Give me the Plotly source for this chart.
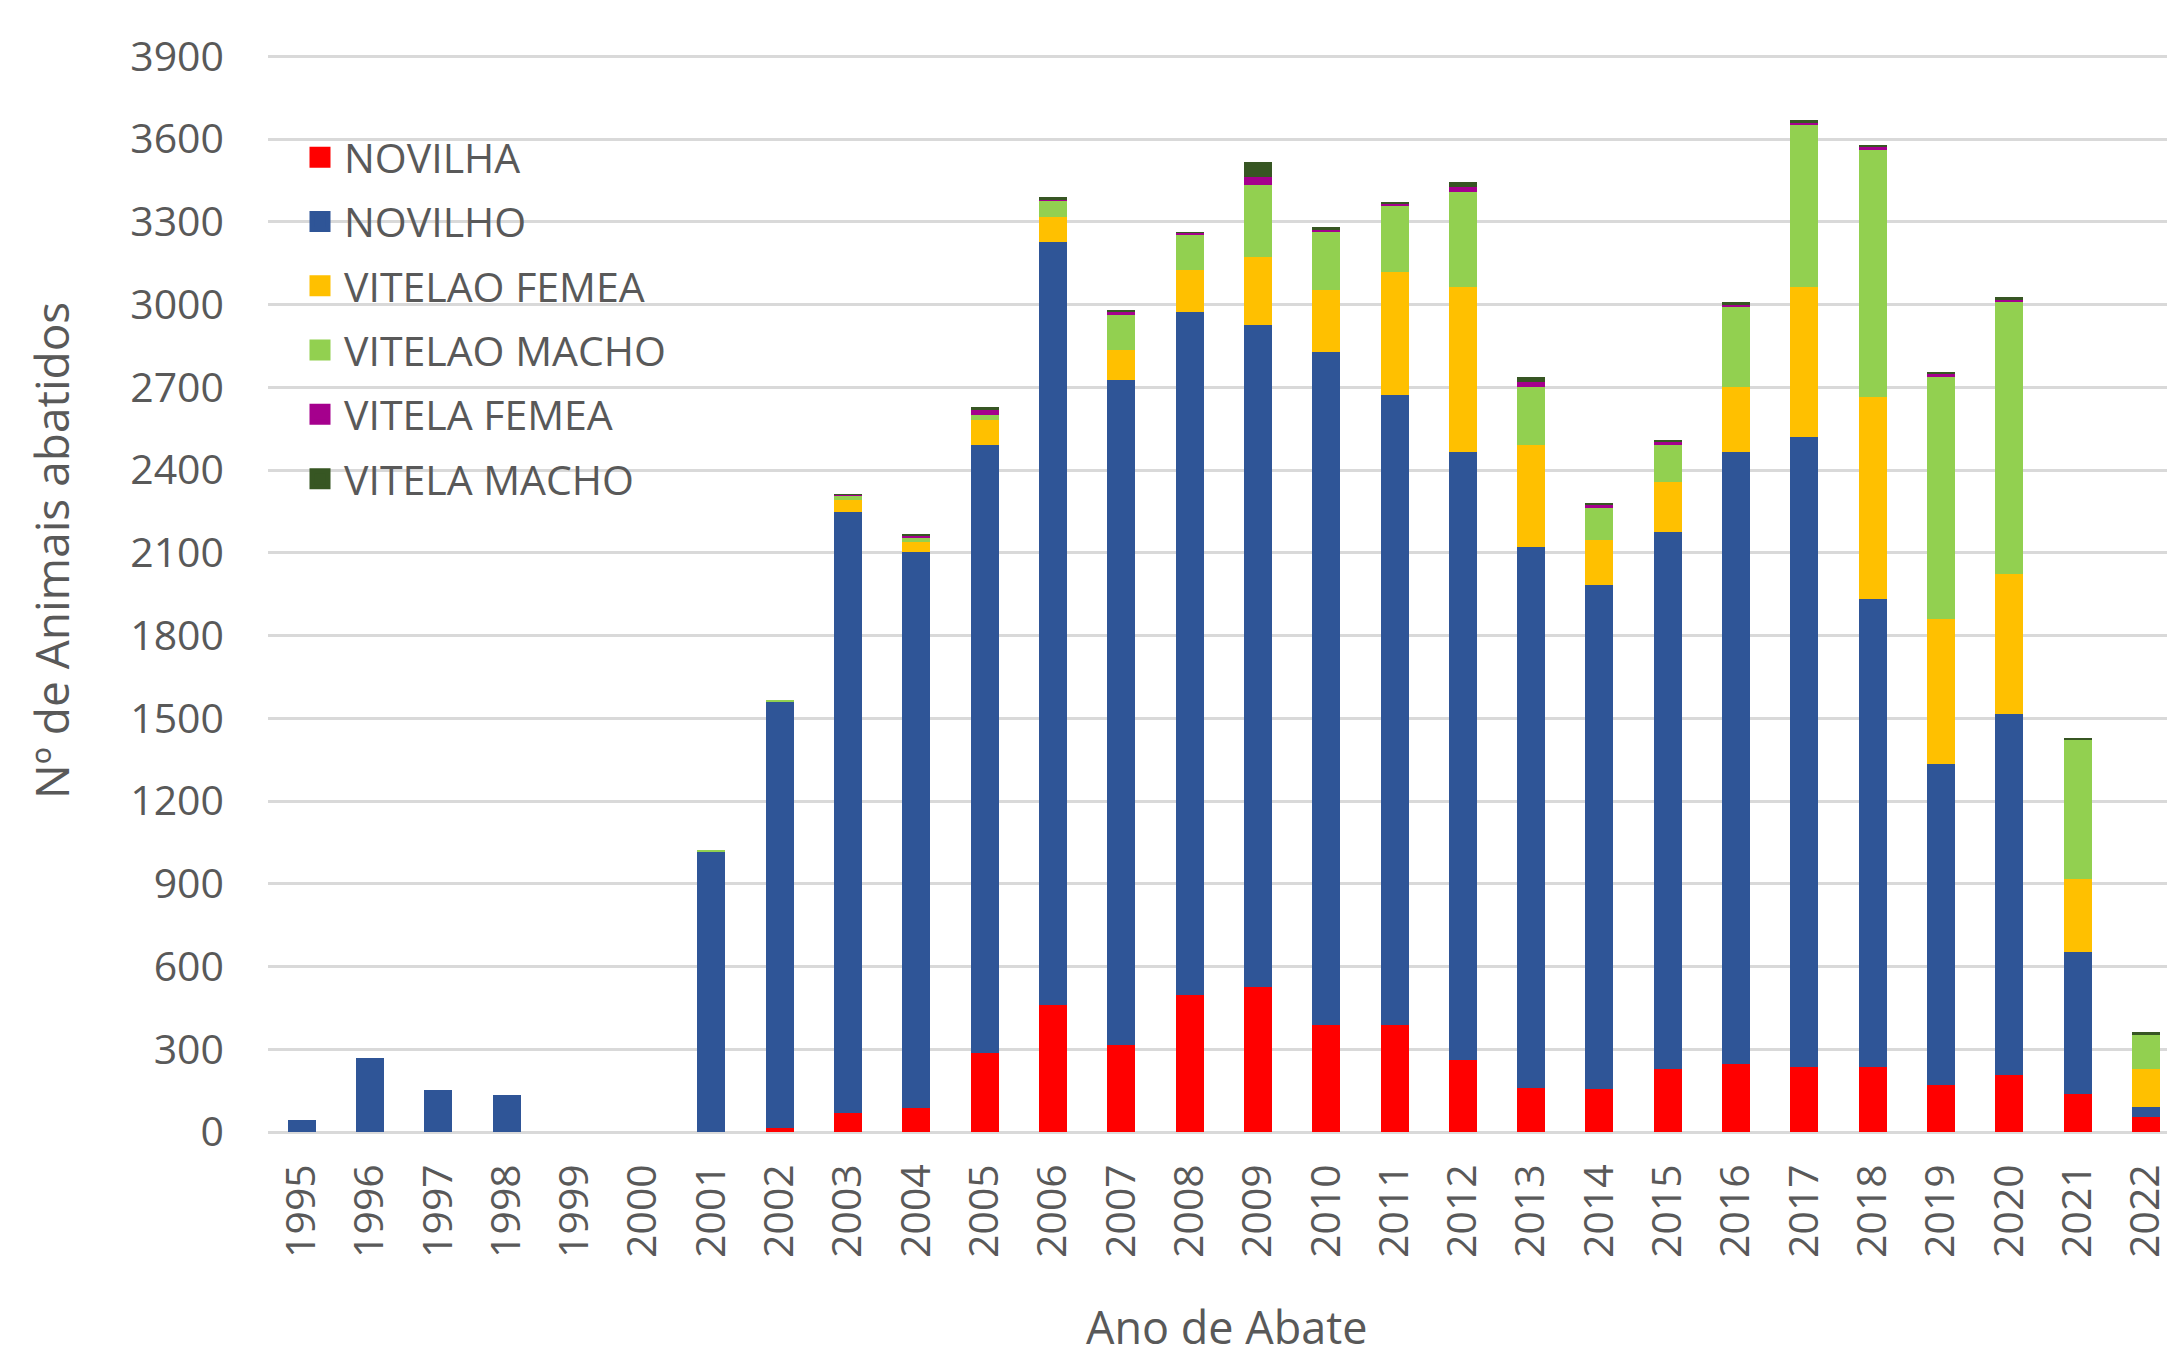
import plotly.graph_objects as go

years = [str(y) for y in range(1995, 2023)]

novilha = [0, 0, 0, 0, 0, 0, 0, 15, 70, 87, 288, 461, 315, 498, 526, 388, 388, 260,
           159, 156, 228, 246, 236, 236, 172, 208, 136, 54]
novilho = [45, 270, 152, 135, 0, 0, 1015, 1545, 2178, 2016, 2204, 2765, 2413, 2475, 2401, 2440, 2285, 2206,
           1963, 1829, 1948, 2220, 2284, 1697, 1161, 1309, 517, 36]
vitelao_femea = [0, 0, 0, 0, 0, 0, 0, 0, 45, 35, 91, 90, 108, 153, 245, 225, 444, 597,
                 370, 163, 181, 235, 543, 732, 528, 507, 264, 138]
vitelao_macho = [0, 0, 0, 0, 0, 0, 8, 5, 15, 15, 18, 63, 127, 128, 261, 209, 244, 344,
                 209, 116, 135, 290, 589, 895, 876, 985, 505, 125]
vitela_femea = [0, 0, 0, 0, 0, 0, 0, 0, 3, 8, 18, 2, 10, 7, 28, 9, 6, 18,
                18, 9, 10, 9, 7, 10, 10, 8, 2, 2]
vitela_macho = [0, 0, 0, 0, 0, 0, 0, 0, 2, 6, 10, 8, 8, 2, 55, 9, 5, 18,
                18, 9, 8, 9, 10, 8, 8, 10, 4, 6]

series = [
    ("NOVILHA", novilha, "#FF0000"),
    ("NOVILHO", novilho, "#2F5597"),
    ("VITELAO FEMEA", vitelao_femea, "#FFC000"),
    ("VITELAO MACHO", vitelao_macho, "#92D050"),
    ("VITELA FEMEA", vitela_femea, "#A5008D"),
    ("VITELA MACHO", vitela_macho, "#375623"),
]

y_ticks = list(range(0, 3901, 300))

FONT = "Open Sans, Noto Sans, Arial, sans-serif"
GREY = "#595959"

fig = go.Figure()
for name, vals, color in series:
    fig.add_trace(go.Bar(
        x=years, y=vals, name=name, legendgroup=name, showlegend=False,
        marker=dict(color=color, line=dict(width=0)),
    ))
for name, vals, color in series:
    fig.add_trace(go.Scatter(
        x=[None], y=[None], name=name, legendgroup=name, mode="markers",
        marker=dict(symbol="square", size=16, color=color, line=dict(color=color, width=5)),
    ))

W, H = 2167, 1349
L, R, T, B = 268, 0, 55, 217
pw = W - L - R
ph = H - T - B

def px_x(px):
    return (px - L) / pw

def px_y(py):
    return (H - B - py) / ph

fig.update_layout(
    width=W, height=H,
    margin=dict(l=L, r=R, t=T, b=B, autoexpand=False),
    barmode="stack",
    bargap=0.59,
    plot_bgcolor="white",
    paper_bgcolor="white",
    font=dict(family=FONT, color=GREY, size=41),
    showlegend=True,
    legend=dict(
        x=px_x(296), y=px_y(124), xanchor="left", yanchor="top",
        bgcolor="rgba(0,0,0,0)",
        font=dict(family=FONT, color=GREY, size=41),
        traceorder="grouped",
        tracegroupgap=8,
        itemwidth=38,
        itemclick=False,
    ),
    xaxis=dict(
        type="category",
        range=[-0.493, 27.31],
        tickangle=-90,
        showgrid=False,
        showline=False,
        zeroline=False,
        ticks="",
        ticklabelstandoff=23,
        tickfont=dict(family=FONT, color=GREY, size=41),
    ),
    yaxis=dict(
        range=[0, 3905],
        tickvals=y_ticks,
        ticktext=[str(v) for v in y_ticks],
        showgrid=True,
        gridcolor="#D9D9D9",
        gridwidth=3,
        zeroline=True,
        zerolinecolor="#D9D9D9",
        zerolinewidth=3,
        showline=False,
        ticks="",
        ticklabelstandoff=43,
        tickfont=dict(family=FONT, color=GREY, size=41),
    ),
    annotations=[
        dict(text="Nº de Animais abatidos", xref="paper", yref="paper",
             x=px_x(51), y=px_y(551), xanchor="center", yanchor="middle",
             textangle=-90, showarrow=False,
             font=dict(family=FONT, color=GREY, size=46)),
        dict(text="Ano de Abate", xref="paper", yref="paper",
             x=px_x(1227), y=px_y(1326), xanchor="center", yanchor="middle",
             showarrow=False,
             font=dict(family=FONT, color=GREY, size=45)),
    ],
)

fig.write_html(
    "out.html",
    config={"displayModeBar": False},
    post_script="document.body.style.margin='0';document.body.style.overflow='hidden';",
)
